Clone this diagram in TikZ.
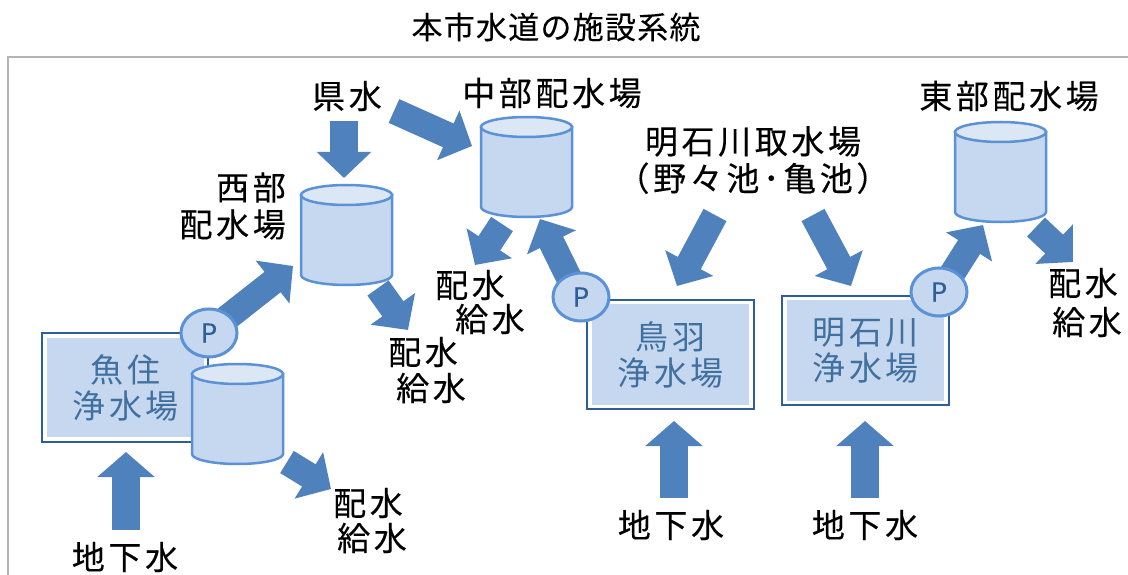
\documentclass[tikz,border=0pt]{standalone}
\usepackage{fontspec}
\setmainfont{Noto Sans CJK JP}[LetterSpace=11,FakeBold=0.25]
\newfontfamily\titlefont{Noto Sans CJK JP}[LetterSpace=4,FakeBold=0.1]
\newfontfamily\boxfont{Noto Sans CJK JP}[LetterSpace=11]
\usetikzlibrary{arrows.meta,shapes.geometric}
\definecolor{arrowblue}{HTML}{4F81BD}
\definecolor{tankline}{HTML}{5B91D6}
\definecolor{tankfill}{HTML}{C5D8F0}
\definecolor{tanktop}{HTML}{DCE7F5}
\definecolor{boxline}{HTML}{2E5E97}
\definecolor{boxtext}{HTML}{41709F}
\definecolor{ptext}{HTML}{2F5F97}
\definecolor{framegrey}{HTML}{B4B4B4}
\tikzset{
  x=1pt,y=-1pt,
  label text/.style={font=\fontsize{33}{37}\selectfont,text=black,inner sep=0pt,align=center},
  boxframe/.style={draw=boxline,line width=2pt,fill=white,inner sep=0pt,outer sep=0pt,anchor=north west},
  boxinner/.style={fill=tankfill,inner sep=0pt,anchor=north west,font=\boxfont\fontsize{33}{36}\selectfont,text=boxtext,align=center},
  pump/.style={ellipse,draw=tankline,line width=3pt,fill=tankfill,minimum width=56pt,minimum height=48pt,inner sep=0pt,text=ptext,font=\fontsize{26}{26}\selectfont},
  tankpart/.style={draw=tankline,line width=2.5pt,fill=tankfill},
  tanklid/.style={draw=tankline,line width=2.5pt,fill=tanktop},
  flow/.style={draw=arrowblue,line width=#1,-{Triangle[length=26pt,width=53pt,fill=arrowblue]}},
  flow/.default=26pt,
  upflow/.style={draw=arrowblue,line width=28pt,-{Triangle[length=25pt,width=56pt,fill=arrowblue]}},
}
\newcommand{\tankat}[3]{% name, left x, top y
  \path[tankpart] (#2,#3+10) -- (#2,#3+90) arc[start angle=180,end angle=360,x radius=45.5,y radius=-10] -- (#2+91,#3+10) -- cycle;
  \path[tanklid] (#2+45.5,#3+10) ellipse[x radius=45.5,y radius=10];
  \coordinate (#1) at (#2+45.5,#3+50);
}
\begin{document}
\begin{tikzpicture}
\useasboundingbox (0,0) rectangle (1128,575);
\fill[white] (0,0) rectangle (1128,575);
\draw[framegrey,line width=2pt] (8,575) -- (8,57.5) -- (1128,57.5);
\node[font=\titlefont\fontsize{31}{34}\selectfont,inner sep=0pt] (title) at (556,27) {本市水道の施設系統};

% named ends of the flows
\coordinate (kenA) at (344,121);  \coordinate (westIn) at (344,178);
\coordinate (kenB) at (394,111);  \coordinate (centralIn) at (472,146);
\coordinate (uoOut) at (218,325); \coordinate (westP) at (293,266);
\coordinate (westT) at (378,288); \coordinate (westD) at (408,330);
\coordinate (centT) at (502,224); \coordinate (centD) at (475,265);
\coordinate (tobaOut) at (570,280); \coordinate (centP) at (540,219);
\coordinate (riverA) at (715,215); \coordinate (tobaIn) at (677,286);
\coordinate (riverB) at (813,215); \coordinate (akashiIn) at (851,286);
\coordinate (akashiOut) at (945,285); \coordinate (eastP) at (983,225);
\coordinate (eastT) at (1036,227); \coordinate (eastD) at (1073,262);
\coordinate (uoT) at (287,462); \coordinate (uoD) at (331,489);
\coordinate (gwA) at (126,530); \coordinate (uoIn) at (126,452);
\coordinate (gwB) at (674,498); \coordinate (tobaUp) at (674,421);
\coordinate (gwC) at (865,498); \coordinate (akashiUp) at (865,421);

% flows
\draw[flow] (kenB) -- (centralIn);
\draw[flow=28pt] (kenA) -- (westIn);
\draw[flow] (uoOut) -- (westP);
\draw[flow] (westT) -- (westD);
\draw[flow] (centT) -- (centD);
\draw[flow] (tobaOut) -- (centP);
\draw[flow] (riverA) -- (tobaIn);
\draw[flow] (riverB) -- (akashiIn);
\draw[flow] (akashiOut) -- (eastP);
\draw[flow] (eastT) -- (eastD);
\draw[flow] (uoT) -- (uoD);
\draw[upflow] (gwA) -- (uoIn);
\draw[upflow] (gwB) -- (tobaUp);
\draw[upflow] (gwC) -- (akashiUp);

% plants
\node[boxframe,minimum width=166pt,minimum height=109pt] (uoFrame) at (42,333) {};
\node[boxinner,minimum width=157pt,minimum height=99pt] (uo) at (47,338) {魚住\\浄水場};
\node[boxframe,minimum width=167pt,minimum height=109pt] (tobaFrame) at (587,300) {};
\node[boxinner,minimum width=157pt,minimum height=101pt] (toba) at (592,304) {鳥羽\\浄水場};
\node[boxframe,minimum width=167pt,minimum height=109pt] (akashiFrame) at (782,296) {};
\node[boxinner,minimum width=157pt,minimum height=101pt] (akashi) at (787,300) {明石川\\浄水場};

% tanks
\tankat{tankUo}{192}{364}
\tankat{tankWest}{301}{185}
\tankat{tankCentral}{481}{117}
\tankat{tankEast}{955}{122}

% pumps
\node[pump] (pUo) at (209,333) {P};
\node[pump] (pToba) at (581,297) {P};
\node[pump] (pAkashi) at (939,292) {P};

% labels
\node[label text] (ken) at (347,96) {県水};
\node[label text] (central) at (552,93) {中部配水場};
\node[label text,align=right,anchor=east] (west) at (286,206) {西部\\配水場};
\node[label text] (river) at (753,160) {明石川取水場\\（野々池･亀池）};
\node[label text] (east) at (1009,96) {東部配水場};
\node[label text] (s1a) at (368,503) {配水};
\node[label text] (s1b) at (372,538) {給水};
\node[label text] (s2a) at (423,352) {配水};
\node[label text] (s2b) at (431,388) {給水};
\node[label text] (s3a) at (470,285) {配水};
\node[label text] (s3b) at (490,319) {給水};
\node[label text] (s4a) at (1083,283) {配水};
\node[label text] (s4b) at (1087,322) {給水};
\node[label text] (g1) at (125,557) {地下水};
\node[label text] (g2) at (671,525) {地下水};
\node[label text] (g3) at (865,525) {地下水};
\end{tikzpicture}
\end{document}
